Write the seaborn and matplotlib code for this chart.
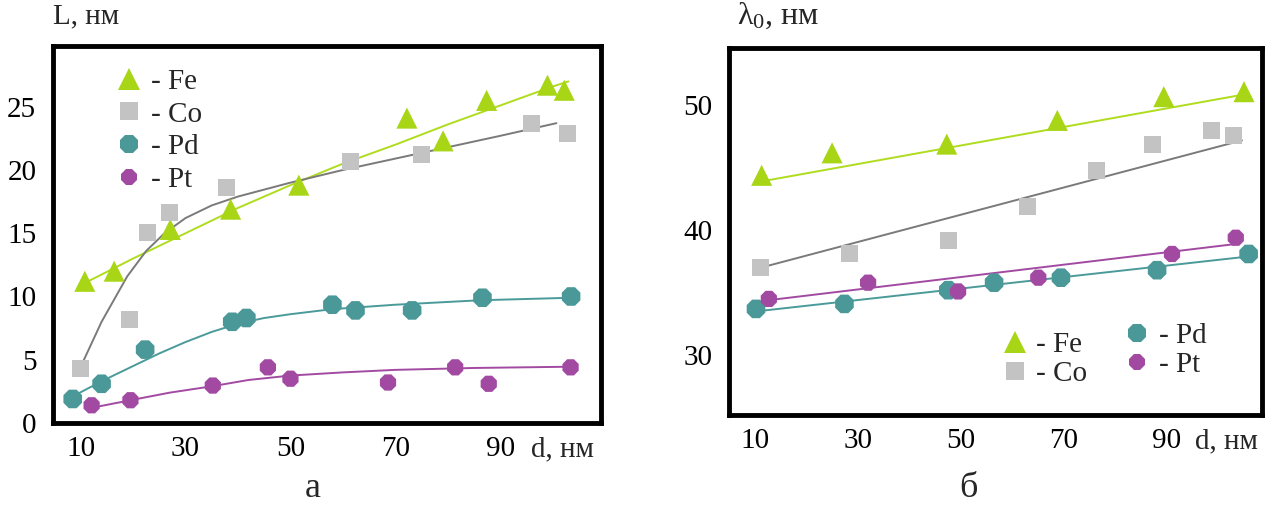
import numpy as np
import pandas as pd
import matplotlib
matplotlib.use("Agg")
import matplotlib.pyplot as plt
from matplotlib.lines import Line2D
import seaborn as sns

sns.set_style("white")
plt.rcParams['font.family'] = ['Liberation Serif', 'DejaVu Serif']
plt.rcParams['mathtext.fontset'] = 'custom'
plt.rcParams['mathtext.rm'] = 'Liberation Serif'
plt.rcParams['mathtext.it'] = 'Liberation Serif'

# ---------------- Panel a: L(d) ----------------
a_fe_d = [10.8, 16.4, 27.1, 38.6, 51.6, 72.2, 79.1, 87.4, 99.0, 102.2]
a_fe_L = [11.2, 12.0, 15.3, 16.9, 18.8, 24.1, 22.3, 25.5, 26.7, 26.3]
a_co_d = [10.0, 19.4, 22.8, 26.9, 37.9, 61.5, 75.0, 95.9, 102.8]
a_co_L = [4.3, 8.2, 15.05, 16.6, 18.6, 20.7, 21.2, 23.7, 22.9]
a_pd_d = [8.5, 14.0, 22.3, 38.9, 41.6, 58.0, 62.4, 73.2, 86.6, 103.5]
a_pd_L = [1.9, 3.1, 5.8, 8.0, 8.3, 9.35, 8.9, 8.9, 9.9, 10.0]
a_pt_d = [12.1, 19.5, 35.2, 45.7, 50.0, 68.6, 81.4, 87.8, 103.4]
a_pt_L = [1.4, 1.8, 2.96, 4.4, 3.5, 3.2, 4.4, 3.1, 4.4]

# fitted curves
a_fe_fit_d = [10.5, 20, 30, 40, 50, 60, 70, 80, 90, 100, 103]
a_fe_fit_L = [11.0, 13.0, 15.0, 17.0, 18.8, 20.5, 22.0, 23.6, 25.1, 26.6, 27.0]
a_co_fit_d = [9.3, 14, 18.9, 22.5, 26, 30, 35, 40, 50, 60, 70, 80, 90, 100.7]
a_co_fit_L = [3.8, 8.0, 11.6, 13.6, 15.0, 16.2, 17.2, 17.9, 19.0, 20.0, 20.9, 21.8, 22.7, 23.7]
a_pd_fit_d = [8.5, 14, 20, 25, 30, 35, 40, 45, 50, 58, 70, 86, 103.5]
a_pd_fit_L = [2.1, 3.3, 4.5, 5.5, 6.4, 7.2, 7.85, 8.3, 8.6, 9.0, 9.35, 9.7, 9.9]
a_pt_fit_d = [12.1, 19.5, 27, 35, 42, 50, 60, 70, 85, 103.4]
a_pt_fit_L = [1.2, 1.8, 2.4, 2.9, 3.4, 3.75, 4.0, 4.2, 4.35, 4.45]

# ---------------- Panel b: lambda0(d) ----------------
b_fe_d = [11.2, 24.9, 47.2, 68.7, 89.4, 105.0]
b_fe_l = [44.4, 46.2, 46.9, 48.8, 50.7, 51.1]
b_co_d = [11.0, 28.3, 47.6, 62.9, 76.3, 87.2, 98.7, 103.0]
b_co_l = [37.0, 38.1, 39.2, 41.9, 44.8, 46.9, 48.0, 47.6]
b_pd_d = [10.1, 27.3, 47.5, 56.4, 69.4, 88.1, 105.9]
b_pd_l = [33.7, 34.1, 35.2, 35.8, 36.2, 36.8, 38.1]
b_pt_d = [12.6, 31.9, 49.4, 65.0, 91.0, 103.4]
b_pt_l = [34.5, 35.8, 35.1, 36.2, 38.1, 39.4]

b_fe_fit_d = [11.0, 105.3]
b_fe_fit_l = [43.9, 50.9]
b_co_fit_d = [11.0, 104.6]
b_co_fit_l = [37.0, 47.2]
b_pd_fit_d = [10.1, 105.9]
b_pd_fit_l = [33.5, 37.9]
b_pt_fit_d = [12.6, 103.4]
b_pt_fit_l = [34.4, 38.9]

x_ticks = [10, 30, 50, 70, 90]
a_y_ticks = [0, 5, 10, 15, 20, 25]
b_y_ticks = [30, 40, 50]
b_y_minor = [35, 45]

labels = ["- Fe", "- Co", "- Pd", "- Pt"]
colors = {"Fe": "#a8d616", "Co": "#c3c3c3", "Pd": "#4b9898", "Pt": "#a24aa2"}
line_colors = {"Fe": "#b0dc1e", "Co": "#7a7a7a", "Pd": "#4b9a9a", "Pt": "#a24aa2"}
markers = {"Fe": "^", "Co": "s", "Pd": "8", "Pt": "8"}
msize = {"Fe": 230, "Co": 150, "Pd": 210, "Pt": 160}

FS = 21

fig = plt.figure(figsize=(12.77, 5.05), dpi=100)
ax_a = fig.add_axes([53/1277, 1-423/505, (601-53)/1277, (423-46)/505])
ax_b = fig.add_axes([729/1277, 1-415/505, (1262-729)/1277, (415-48)/505])


def draw(ax, series):
    for name, (xd, yd, xf, yf) in series.items():
        sns.lineplot(x=xf, y=yf, ax=ax, color=line_colors[name], lw=1.4,
                     estimator=None, sort=False, legend=False)
    for name, (xd, yd, xf, yf) in series.items():
        sns.scatterplot(x=xd, y=yd, ax=ax, color=colors[name], marker=markers[name],
                        s=msize[name], edgecolor='none', linewidth=0, legend=False, zorder=3)


draw(ax_a, {
    "Fe": (a_fe_d, a_fe_L, a_fe_fit_d, a_fe_fit_L),
    "Co": (a_co_d, a_co_L, a_co_fit_d, a_co_fit_L),
    "Pd": (a_pd_d, a_pd_L, a_pd_fit_d, a_pd_fit_L),
    "Pt": (a_pt_d, a_pt_L, a_pt_fit_d, a_pt_fit_L),
})
draw(ax_b, {
    "Fe": (b_fe_d, b_fe_l, b_fe_fit_d, b_fe_fit_l),
    "Co": (b_co_d, b_co_l, b_co_fit_d, b_co_fit_l),
    "Pd": (b_pd_d, b_pd_l, b_pd_fit_d, b_pd_fit_l),
    "Pt": (b_pt_d, b_pt_l, b_pt_fit_d, b_pt_fit_l),
})

ax_a.set_xlim(4.74, 109.2)
ax_a.set_ylim(0, 29.8)
ax_b.set_xlim(4.85, 108.5)
ax_b.set_ylim(25.2, 54.6)

for ax in (ax_a, ax_b):
    ax.set_xticks(x_ticks)
    ax.set_xticklabels([str(t) for t in x_ticks])
    for sp in ax.spines.values():
        sp.set_linewidth(3.5)
        sp.set_color('black')
    ax.tick_params(axis='both', which='major', direction='in', length=7, width=3.5,
                   labelsize=FS, colors='black', pad=9)
    ax.tick_params(axis='both', which='minor', direction='in', length=7, width=3.5)
    ax.tick_params(axis='y', which='major', pad=12)
    ax.set_xlabel("")
    ax.set_ylabel("")

ax_a.set_yticks(a_y_ticks)
ax_a.set_yticklabels([str(t) for t in a_y_ticks])
ax_b.set_yticks(b_y_ticks)
ax_b.set_yticklabels([str(t) for t in b_y_ticks])
ax_b.set_yticks(b_y_minor, minor=True)

# axis titles
ax_a.text(0.0, 1.045, "L, нм", transform=ax_a.transAxes, fontsize=FS, ha='left', va='bottom')
ax_a.text(0.872, -0.069, "d, нм", transform=ax_a.transAxes, fontsize=FS, ha='left', va='center')
ax_b.text(0.015, 1.045, r"$\lambda_{0}$, нм", transform=ax_b.transAxes, fontsize=FS + 2,
          ha='left', va='bottom')
ax_b.text(0.875, -0.072, "d, нм", transform=ax_b.transAxes, fontsize=FS, ha='left', va='center')


def handle(name):
    return Line2D([], [], ls='none', marker=markers[name], color=colors[name],
                  markersize=np.sqrt(msize[name]), markeredgewidth=0)


names = ["Fe", "Co", "Pd", "Pt"]
leg_a = ax_a.legend([handle(n) for n in names], labels, loc='upper left',
                    bbox_to_anchor=(0.075, 0.995), frameon=False, fontsize=FS,
                    handlelength=1.0, handletextpad=0.25, labelspacing=0.22, borderpad=0.2)

leg_b1 = ax_b.legend([handle("Fe"), handle("Co")], ["- Fe", "- Co"], loc='lower left',
                     bbox_to_anchor=(0.47, 0.02), frameon=False, fontsize=FS,
                     handlelength=1.0, handletextpad=0.25, labelspacing=0.1, borderpad=0.2)
ax_b.add_artist(leg_b1)
ax_b.legend([handle("Pd"), handle("Pt")], ["- Pd", "- Pt"], loc='lower left',
            bbox_to_anchor=(0.7, 0.045), frameon=False, fontsize=FS,
            handlelength=1.0, handletextpad=0.25, labelspacing=0.1, borderpad=0.2)

fig.text(313/1277, 1-497/505, "а", fontsize=26, ha='center', va='baseline')
fig.text(968/1277, 1-497/505, "б", fontsize=26, ha='center', va='baseline')

fig.savefig("out.png", dpi=100)
